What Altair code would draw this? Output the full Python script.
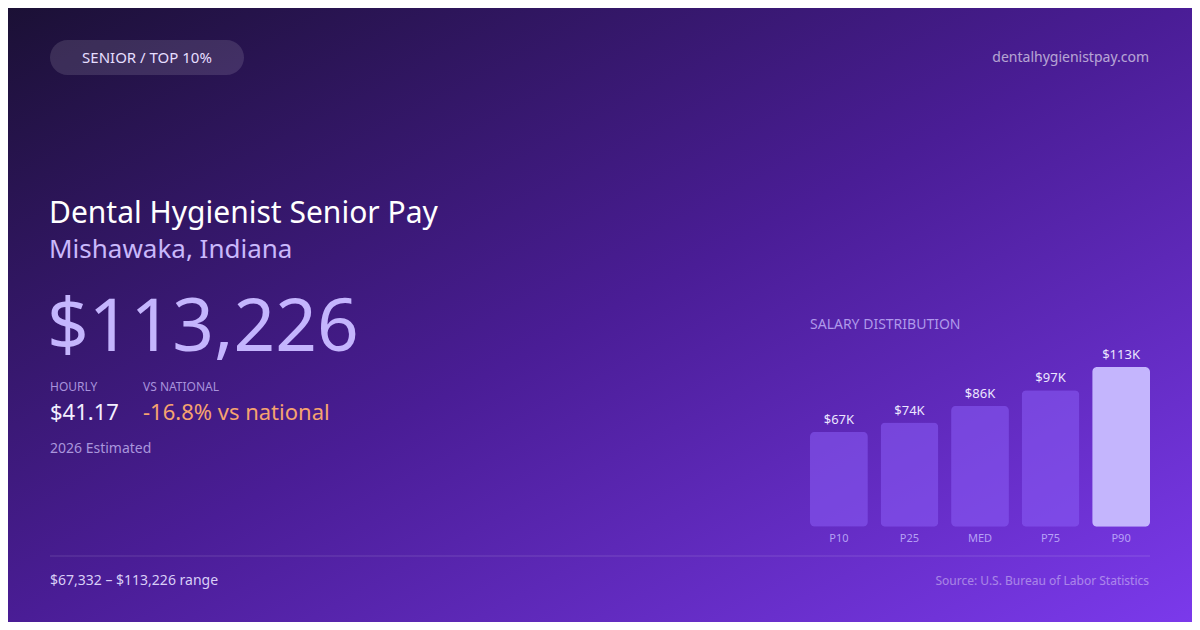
import altair as alt
import pandas as pd

OFF = 8
W, H = 1200 - 2 * OFF, 630 - 2 * OFF
FONT = "Noto Sans"

# ---- data ----
labels = ["P10", "P25", "MED", "P75", "P90"]
values = [67332, 73800, 85800, 96800, 113226]
value_labels = ["$67K", "$74K", "$86K", "$97K", "$113K"]

badge = "SENIOR / TOP 10%"
site = "dentalhygienistpay.com"
title = "Dental Hygienist Senior Pay"
subtitle = "Mishawaka, Indiana"
headline = "$113,226"
hourly_label = "HOURLY"
hourly_value = "$41.17"
vs_label = "VS NATIONAL"
vs_value = "-16.8% vs national"
estimate = "2026 Estimated"
section = "SALARY DISTRIBUTION"
range_text = "$67,332 \u2013 $113,226 range"
source = "Source: U.S. Bureau of Labor Statistics"


def P(v):
    return v - OFF


one = pd.DataFrame({"a": [0]})

gradient = alt.Gradient(
    gradient="linear",
    x1=0, y1=0, x2=1, y2=1,
    stops=[
        alt.GradientStop(offset=0, color="#1a1033"),
        alt.GradientStop(offset=0.5, color="#4a1d96"),
        alt.GradientStop(offset=1, color="#7c3aed"),
    ],
)

bg = alt.Chart(one).mark_rect(color=gradient).encode(
    x=alt.value(-OFF), x2=alt.value(W + OFF), y=alt.value(-OFF), y2=alt.value(H + OFF)
)

pill = alt.Chart(one).mark_rect(
    color="#ffffff", opacity=0.12, cornerRadius=17.5
).encode(x=alt.value(P(50)), x2=alt.value(P(244)), y=alt.value(P(40)), y2=alt.value(P(75)))

rule = alt.Chart(one).mark_rule(color="#ffffff", opacity=0.15, strokeWidth=1).encode(
    x=alt.value(P(50)), x2=alt.value(P(1150)), y=alt.value(P(556))
)


def txt(s, x, y, size, color, align="left", weight="normal", opacity=1.0):
    return alt.Chart(pd.DataFrame({"t": [s]})).mark_text(
        align=align, baseline="middle", fontSize=size, color=color,
        font=FONT, fontWeight=weight, opacity=opacity,
    ).encode(x=alt.value(P(x)), y=alt.value(P(y)), text="t:N")


texts = [
    txt(badge, 147, 58, 15, "#e6deff", align="center"),
    txt(site, 1149, 58, 14, "#ffffff", align="right", opacity=0.6),
    txt(title, 49, 214, 30, "#ffffff"),
    txt(subtitle, 49, 250, 26, "#c9b8fb"),
    txt(headline, 47, 329, 73, "#c4b5fd"),
    txt(hourly_label, 50, 387, 12, "#a893dc"),
    txt(vs_label, 143, 387, 12, "#a893dc"),
    txt(hourly_value, 50, 413, 22, "#f3efff"),
    txt(vs_value, 143, 413, 22, "#f6a36f"),
    txt(estimate, 50, 449, 14, "#a996dc"),
    txt(section, 810, 325, 14, "#b9a6f2", opacity=0.9),
    txt(range_text, 50, 581, 14, "#d9cff7"),
    txt(source, 1149, 581, 12, "#ffffff", align="right", opacity=0.4),
]

df = pd.DataFrame({"label": labels, "value": values, "vlabel": value_labels})

xs = alt.Scale(domain=labels, range=[P(810), P(1150)], paddingInner=0.18, paddingOuter=0)
ys = alt.Scale(domain=[0, max(values)], range=[P(526.7), P(367)], nice=False, zero=True)

base = alt.Chart(df)
bars = base.mark_bar(cornerRadius=5).encode(
    x=alt.X("label:N", scale=xs, axis=None, sort=labels),
    y=alt.Y("value:Q", scale=ys, axis=None),
    color=alt.condition(alt.datum.label == "P90", alt.value("#c4b5fd"), alt.value("#8b5cf6")),
    opacity=alt.condition(alt.datum.label == "P90", alt.value(1.0), alt.value(0.55)),
)
vals = base.mark_text(
    baseline="alphabetic", dy=-8, fontSize=13, color="#ece6ff", font=FONT
).encode(
    x=alt.X("label:N", scale=xs, axis=None, sort=labels),
    y=alt.Y("value:Q", scale=ys, axis=None),
    text="vlabel:N",
)
cats = base.mark_text(
    baseline="middle", fontSize=11, color="#c4b5fd", opacity=0.85, font=FONT
).encode(
    x=alt.X("label:N", scale=xs, axis=None, sort=labels),
    y=alt.value(P(539)),
    text="label:N",
)

chart = alt.layer(bg, pill, rule, *texts, bars, vals, cats).properties(
    width=W, height=H, padding=0,
    autosize=alt.AutoSizeParams(type="none"),
).configure_view(stroke=None).configure(background="#1a1033")

chart.save("out.html", embed_options={"renderer": "svg", "actions": False})
